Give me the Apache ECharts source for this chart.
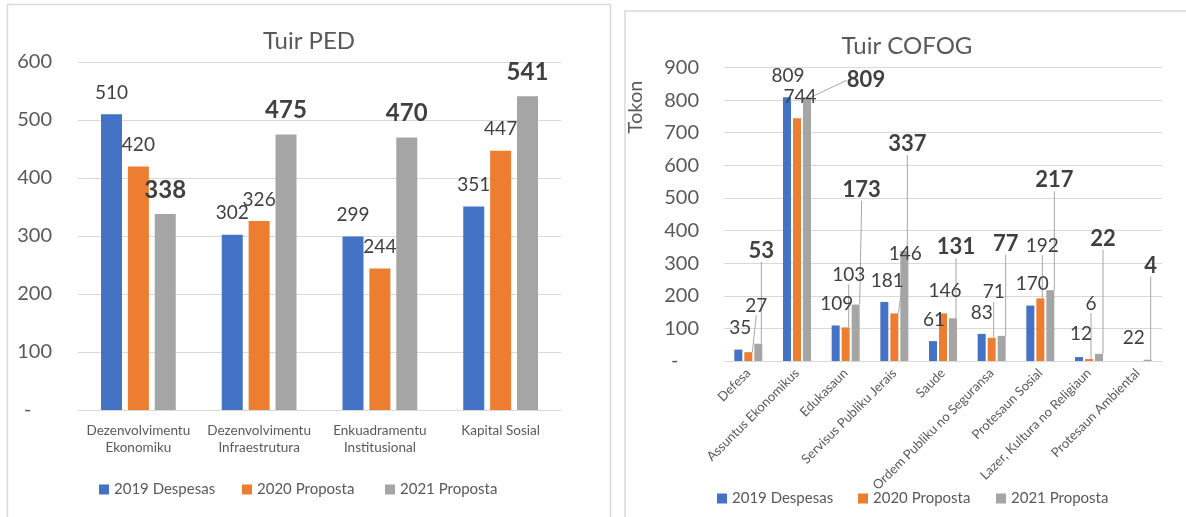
<!DOCTYPE html>
<html>
<head>
<meta charset="utf-8">
<script src="https://cdn.jsdelivr.net/npm/echarts@6/dist/echarts.min.js"></script>
<style>
html,body{margin:0;padding:0;background:#fff;}
#c{width:1186px;height:517px;}
</style>
</head>
<body>
<div id="c"></div>
<script>
// ---- data ----
const seriesNames = ['2019 Despesas', '2020 Proposta', '2021 Proposta'];

const pedCategories = ['Dezenvolvimentu\nEkonomiku', 'Dezenvolvimentu\nInfraestrutura', 'Enkuadramentu\nInstitusional', 'Kapital Sosial'];
const ped2019 = [510, 302, 299, 351];
const ped2020 = [420, 326, 244, 447];
const ped2021 = [338, 475, 470, 541];

const cofogCategories = ['Defesa', 'Assuntus Ekonomikus', 'Edukasaun', 'Servisus Publiku Jerais', 'Saude',
  'Ordem Publiku no Seguransa', 'Protesaun Sosial', 'Lazer, Kultura no Religiaun', 'Protesaun Ambiental'];
const cofog2019 = [35, 809, 109, 181, 61, 83, 170, 12, 0];
const cofog2020 = [27, 744, 103, 146, 146, 71, 192, 6, 0];
const cofog2021 = [53, 809, 173, 337, 131, 77, 217, 22, 4];
// label text shown in the source that differs from the bar (stray label)
const cofogLabelOverride2019 = {8: '22'};

// ---- label placement (pixel offsets, style only) ----
const shift2019 = [[2,0],[1,0],[1,0],[3,0],[1,0],[0,0],[2,0],[2,-2],[6,-2]];
const shift2020 = [[8,-25],[3,0],[3,-31],[11,-38],[2,-1],[2,-24],[2,-31],[2,-34],[0,0]];
const shift2021 = [[3,-70],[59,6],[6,-92],[3,-84],[3,-48],[4,-69],[4,-87],[4,-92],[3,-71]];
const line2020 = [1,0,1,1,0,1,1,1,0];
const line2021 = [1,1,1,1,1,1,1,1,1];

// legend slot positions (style)
const pedLegendLeft = [99, 242, 385];
const cofogLegendLeft = [717, 858, 996];

const FONT = 'Lato';
const TXT = '#595959';
const LBL = '#404040';
const colors = ['#4472C4', '#ED7D31', '#A5A5A5'];

const chart = echarts.init(document.getElementById('c'), null, {renderer: 'canvas'});

function yLabelFmt(v) { return v === 0 ? '-    ' : String(v); }

function pedSeries(name, data, idx, bold) {
  return {
    name: name, type: 'bar', xAxisIndex: 0, yAxisIndex: 0,
    data: data, barWidth: 21, barGap: '28%',
    itemStyle: {color: colors[idx]},
    label: {show: true, position: 'top', distance: 12, fontFamily: FONT,
      fontSize: bold ? 24 : 19, fontWeight: bold ? 'bold' : 'normal', color: LBL},
    animation: false
  };
}

function cofogSeries(name, values, idx, bold, shifts, lines, overrides) {
  const data = values.map((v, i) => ({
    value: v,
    labelLine: {show: !!(lines && lines[i])}
  }));
  return {
    name: name, type: 'bar', xAxisIndex: 1, yAxisIndex: 1,
    data: data, barWidth: 8, barGap: '25%',
    itemStyle: {color: colors[idx]},
    label: {show: true, position: 'top', distance: 12, fontFamily: FONT,
      fontSize: bold ? 22 : 19, fontWeight: bold ? 'bold' : 'normal', color: LBL,
      formatter: p => {
        if (overrides && overrides[p.dataIndex] != null) return overrides[p.dataIndex];
        return p.value === 0 ? '' : String(p.value);
      }},
    labelLine: {show: false, lineStyle: {color: '#a6a6a6', width: 1}},
    labelLayout: p => ({dx: shifts[p.dataIndex][0], dy: shifts[p.dataIndex][1]}),
    animation: false
  };
}

function legendItem(name, left, top) {
  return {data: [name], left: left, top: top, itemWidth: 10, itemHeight: 10, itemGap: 0,
    icon: 'rect', textStyle: {fontFamily: FONT, fontSize: 15, color: TXT}, padding: 0};
}

const legends = [];
seriesNames.forEach((n, i) => legends.push(legendItem(n, pedLegendLeft[i], 482)));
seriesNames.forEach((n, i) => legends.push(legendItem(n, cofogLegendLeft[i], 491)));

const option = {
  animation: false,
  textStyle: {fontFamily: FONT},
  title: [
    {text: 'Tuir PED', left: 309, top: 29, textAlign: 'center', padding: 0,
      textStyle: {fontFamily: FONT, fontSize: 24, fontWeight: 'normal', color: TXT}},
    {text: 'Tuir COFOG', left: 907, top: 34, textAlign: 'center', padding: 0,
      textStyle: {fontFamily: FONT, fontSize: 24, fontWeight: 'normal', color: TXT}}
  ],
  legend: legends,
  grid: [
    {left: 78, right: 625, top: 62, bottom: 107},
    {left: 724, right: 24, top: 67.5, bottom: 156}
  ],
  xAxis: [
    {type: 'category', gridIndex: 0, data: pedCategories,
      axisLine: {lineStyle: {color: '#d9d9d9', width: 1}}, axisTick: {show: false},
      axisLabel: {fontFamily: FONT, fontSize: 13.5, color: TXT, margin: 12, lineHeight: 17, interval: 0}},
    {type: 'category', gridIndex: 1, data: cofogCategories,
      axisLine: {lineStyle: {color: '#d9d9d9', width: 1}}, axisTick: {show: false},
      axisLabel: {fontFamily: FONT, fontSize: 13, color: TXT, margin: 10, rotate: 45, interval: 0}}
  ],
  yAxis: [
    {type: 'value', gridIndex: 0, min: 0, max: 600, interval: 100,
      axisLine: {show: false}, axisTick: {show: false},
      splitLine: {lineStyle: {color: '#d9d9d9', width: 1}},
      axisLabel: {fontFamily: FONT, fontSize: 20, color: TXT, margin: 26, formatter: yLabelFmt}},
    {type: 'value', gridIndex: 1, min: 0, max: 900, interval: 100,
      axisLine: {show: false}, axisTick: {show: false},
      splitLine: {lineStyle: {color: '#d9d9d9', width: 1}},
      axisLabel: {fontFamily: FONT, fontSize: 20, color: TXT, margin: 25, formatter: yLabelFmt}}
  ],
  graphic: [
    {type: 'rect', shape: {x: 7.5, y: 4.5, width: 603, height: 530}, style: {fill: 'none', stroke: '#d9d9d9', lineWidth: 1.5}, silent: true, z: -1},
    {type: 'rect', shape: {x: 625, y: 11, width: 600, height: 530}, style: {fill: 'none', stroke: '#d9d9d9', lineWidth: 1.5}, silent: true, z: -1},
    {type: 'text', x: 636, y: 107, rotation: Math.PI / 2,
      style: {text: 'Tokon', fontFamily: FONT, fontSize: 20, fill: TXT, align: 'center', verticalAlign: 'middle'}}
  ],
  series: [
    pedSeries(seriesNames[0], ped2019, 0, false),
    pedSeries(seriesNames[1], ped2020, 1, false),
    pedSeries(seriesNames[2], ped2021, 2, true),
    cofogSeries(seriesNames[0], cofog2019, 0, false, shift2019, null, cofogLabelOverride2019),
    cofogSeries(seriesNames[1], cofog2020, 1, false, shift2020, line2020, null),
    cofogSeries(seriesNames[2], cofog2021, 2, true, shift2021, line2021, null)
  ]
};
chart.setOption(option);
</script>
</body>
</html>
